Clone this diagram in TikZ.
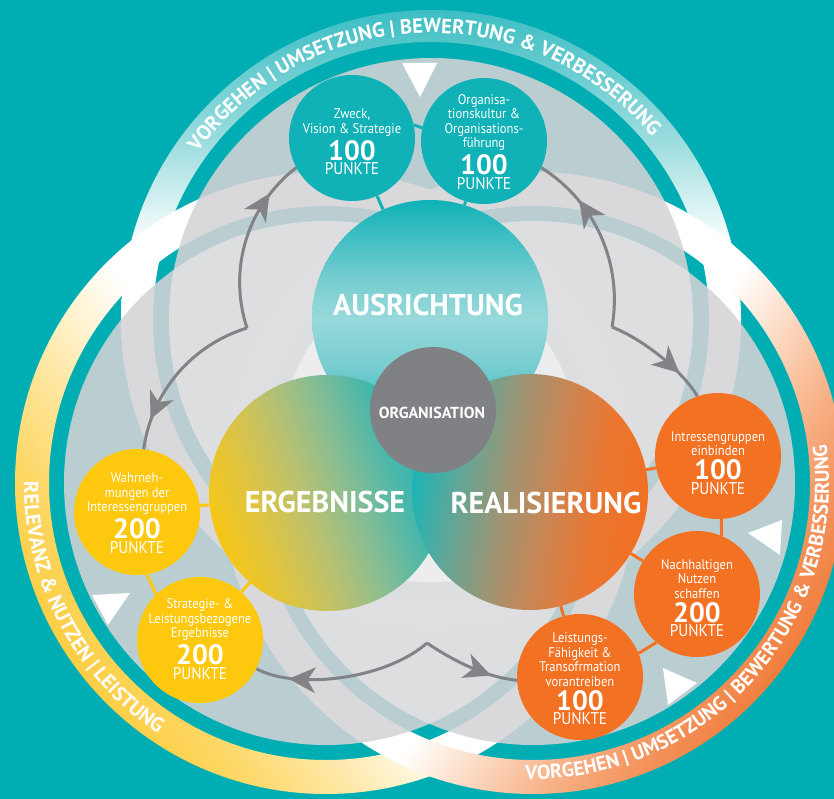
\documentclass[tikz,border=0pt]{standalone}
\usepackage{fontspec}
\setmainfont{PT Sans}
\newfontfamily\condf[FakeStretch=0.9]{PT Sans}
\usetikzlibrary{decorations.text,decorations.markings,arrows.meta}

\definecolor{bgteal}{RGB}{0,173,178}
\definecolor{ringTealA}{RGB}{60,190,195}
\definecolor{ringTealB}{RGB}{160,222,224}
\definecolor{yelA}{RGB}{252,206,68}
\definecolor{yelB}{RGB}{253,214,96}
\definecolor{yelC}{RGB}{254,227,148}
\definecolor{yelD}{RGB}{255,242,206}
\definecolor{orA}{RGB}{240,126,60}
\definecolor{orB}{RGB}{244,148,94}
\definecolor{orC}{RGB}{248,181,140}
\definecolor{orD}{RGB}{252,220,198}
\definecolor{diskgrey}{RGB}{212,211,214}
\definecolor{smteal}{RGB}{16,178,183}
\definecolor{smorange}{RGB}{242,113,34}
\definecolor{smyellow}{RGB}{254,200,14}
\definecolor{arrowgrey}{RGB}{130,131,135}
\definecolor{orggrey}{RGB}{128,129,133}
\definecolor{ausA}{RGB}{15,178,183}
\definecolor{ausB}{RGB}{120,205,208}
\definecolor{ausC}{RGB}{152,217,219}
\definecolor{ausD}{RGB}{30,182,186}
\definecolor{ergA}{RGB}{246,198,22}
\definecolor{ergB}{RGB}{222,196,66}
\definecolor{ergC}{RGB}{186,193,112}
\definecolor{ergD}{RGB}{134,189,148}
\definecolor{ergE}{RGB}{74,183,170}
\definecolor{ergF}{RGB}{28,180,182}
\definecolor{reaA}{RGB}{28,180,182}
\definecolor{reaB}{RGB}{100,166,150}
\definecolor{reaC}{RGB}{160,148,115}
\definecolor{reaD}{RGB}{205,133,82}
\definecolor{reaE}{RGB}{235,118,48}
\definecolor{reaF}{RGB}{242,112,34}

\pgfdeclareverticalshading{topring}{100bp}{color(0bp)=(white); color(56bp)=(white); color(64bp)=(ringTealB); color(75bp)=(ringTealA); color(100bp)=(ringTealA)}
\pgfdeclarehorizontalshading{yelring}{100bp}{color(0bp)=(yelA); color(25bp)=(yelA); color(30bp)=(yelB); color(35.5bp)=(yelC); color(41bp)=(yelD); color(46bp)=(white); color(100bp)=(white)}
\pgfdeclarehorizontalshading{orring}{100bp}{color(0bp)=(orA); color(25bp)=(orA); color(30bp)=(orB); color(35.5bp)=(orC); color(41bp)=(orD); color(46bp)=(white); color(100bp)=(white)}
\pgfdeclarehorizontalshading{ergshade}{100bp}{color(0bp)=(ergA); color(25bp)=(ergA); color(35bp)=(ergB); color(45bp)=(ergC); color(55bp)=(ergD); color(65bp)=(ergE); color(75bp)=(ergF); color(100bp)=(ergF)}
\pgfdeclarehorizontalshading{realshade}{100bp}{color(0bp)=(reaA); color(25bp)=(reaA); color(35bp)=(reaB); color(45bp)=(reaC); color(55bp)=(reaD); color(65bp)=(reaE); color(75bp)=(reaF); color(100bp)=(reaF)}
\pgfdeclareverticalshading{ausshade}{100bp}{color(0bp)=(ausD); color(25bp)=(ausD); color(40bp)=(ausB); color(50bp)=(ausC); color(58bp)=(ausB); color(75bp)=(ausA); color(100bp)=(ausA)}

\pgfdeclarelayer{back}
\pgfdeclarelayer{conn}
\pgfsetlayers{back,conn,main}

\newcommand\ringtext{\bfseries\fontsize{20.5}{20.5}\selectfont\color{white}}
\newcommand\ringtextb{\bfseries\fontsize{20}{20}\selectfont\color{white}}
\newcommand\punkte[1]{\\[3pt]{\normalfont\bfseries\fontsize{28}{28}\selectfont #1}\\{\condf\fontsize{17}{17}\selectfont PUNKTE}}

\begin{document}
\begin{tikzpicture}[x=1pt,y=-1pt,
  smc/.style={circle, minimum size=126pt, inner sep=0pt, draw=none},
  bigc/.style={circle, minimum size=236pt, inner sep=0pt, draw=none},
  smalltxt/.style={font=\condf\fontsize{14}{14.5}\selectfont, text=white, align=center, inner sep=0pt},
  bigtxt/.style={font=\bfseries\fontsize{30}{30}\selectfont, text=white, inner sep=0pt},
  orgtxt/.style={font=\bfseries\fontsize{16}{16}\selectfont, text=white, inner sep=0pt},
  tconn/.style={draw=smteal, line width=3pt},
  oconn/.style={draw=smorange, line width=3pt},
  yconn/.style={draw=smyellow, line width=3pt},
  flowarrow/.style={draw=arrowgrey, line width=3pt, postaction={decorate},
    decoration={markings, mark=at position #1 with {\fill[arrowgrey] (13pt,0pt) -- (-14pt,13pt) -- (-6pt,0pt) -- (-14pt,-13pt) -- cycle;}}},
  ringpath/.style={decorate, decoration={text along path, text align=center, text={#1}}}
]
\useasboundingbox (0,0) rectangle (834,799);
\coordinate (ct) at (431,320);
\coordinate (cl) at (326,483);
\coordinate (cr) at (533,483);

\begin{pgfonlayer}{back}
\fill[bgteal] (0,0) rectangle (834,799);
% ring bands
\shade[shading=topring, even odd rule] (ct) circle[radius=310] (ct) circle[radius=278];
\shade[shading=yelring, shading angle=35, even odd rule] (cl) circle[radius=311] (cl) circle[radius=277];
\shade[shading=orring, shading angle=145, even odd rule] (cr) circle[radius=311] (cr) circle[radius=277];
% grey disks
\fill[diskgrey, opacity=0.88] (ct) circle[radius=262];
\fill[diskgrey, opacity=0.88] (cl) circle[radius=262];
\fill[diskgrey, opacity=0.88] (cr) circle[radius=262];
% lighter overlaps
\begin{scope}
\clip (ct) circle[radius=262];
\fill[white, opacity=0.28] (cl) circle[radius=262];
\fill[white, opacity=0.28] (cr) circle[radius=262];
\end{scope}
\begin{scope}
\clip (cl) circle[radius=262];
\fill[white, opacity=0.28] (cr) circle[radius=262];
\end{scope}
% white triangles
\fill[white] (402,63) -- (437,63) -- (420,97) -- cycle;
\fill[white] (92,595) -- (130,593) -- (108,625) -- cycle;
\fill[white] (748,533) -- (782,520) -- (780,555) -- cycle;
\fill[white] (663,668) -- (697,683) -- (668,705) -- cycle;
\end{pgfonlayer}

% ring texts
\path[ringpath={|\ringtext|VORGEHEN {\textbar} UMSETZUNG {\textbar} BEWERTUNG {\&} VERBESSERUNG}]
  (ct) ++(203:287) arc[start angle=203, end angle=333, radius=287];
\path[ringpath={|\ringtext|RELEVANZ {\&} NUTZEN {\textbar} LEISTUNG}]
  (cl) ++(212:302) arc[start angle=212, end angle=92, radius=302];
\path[ringpath={|\ringtextb|VORGEHEN {\textbar} UMSETZUNG {\textbar} BEWERTUNG {\&} VERBESSERUNG}]
  (cr) ++(107:296) arc[start angle=107, end angle=-23, radius=296];

% small circles
\node[smc, fill=smteal] (zweck) at (352,138) {};
\node[smc, fill=smteal] (org) at (484,141) {};
\node[smc, fill=smorange] (intr) at (718,456) {};
\node[smc, fill=smorange] (nachh) at (697,594) {};
\node[smc, fill=smorange] (leist) at (580,677) {};
\node[smc, fill=smyellow] (wahr) at (137,512) {};
\node[smc, fill=smyellow] (strat) at (200,640) {};

% big circles
\node[bigc, shade, shading=ausshade] (ausr) at (430,318) {};
\node[bigc, shade, shading=ergshade, shading angle=20] (erg) at (327,493) {};
\node[bigc, shade, shading=realshade, shading angle=-10] (real) at (530,492) {};
\node[circle, fill=orggrey, minimum size=126pt, inner sep=0pt] (orga) at (433,410) {};

% connectors
\begin{pgfonlayer}{conn}
\draw[tconn] (zweck.12) -- (org.168);
\draw[tconn] (zweck) -- (ausr);
\draw[tconn] (org) -- (ausr);
\draw[oconn] (intr) -- (real);
\draw[oconn] (intr.-87) -- (nachh.67);
\draw[oconn] (nachh) -- (real);
\draw[oconn] (nachh.230) -- (leist.22);
\draw[oconn] (leist) -- (real);
\draw[yconn] (wahr) -- (erg);
\draw[yconn] (wahr.-81) -- (strat.134);
\draw[yconn] (strat) -- (erg);
\end{pgfonlayer}

% texts
\node[bigtxt] (ausrT) at (428,305) {AUSRICHTUNG};
\node[bigtxt] (ergT) at (325,502) {ERGEBNISSE};
\node[bigtxt] (realT) at (546,503) {REALISIERUNG};
\node[orgtxt] (orgaT) at (432,413) {ORGANISATION};

\node[smalltxt] (zweckT) at (352,142) {Zweck,\\Vision \& Strategie\punkte{100}};
\node[smalltxt] (orgT) at (484,142) {Organisa-\\tionskultur \&\\Organisations-\\führung\punkte{100}};
\node[smalltxt] (intrT) at (718,463) {Intressengruppen\\einbinden\punkte{100}};
\node[smalltxt] (nachhT) at (697,598) {Nachhaltigen\\Nutzen\\schaffen\punkte{200}};
\node[smalltxt] (leistT) at (580,679) {Leistungs-\\Fähigkeit \&\\Transofrmation\\vorantreiben\punkte{100}};
\node[smalltxt] (wahrT) at (137,513) {Wahrneh-\\mungen der\\Interessengruppen\punkte{200}};
\node[smalltxt] (stratT) at (200,639) {Strategie- \&\\Leistungsbezogene\\Ergebnisse\punkte{200}};

% kinked arrows
\coordinate (kA) at (247,328);
\coordinate (kB) at (612,327);
\coordinate (kC) at (427,643);
\draw[flowarrow=0.72] (kA) .. controls (227.6,269) and (247.4,205.4) .. (zweck.208.6);
\draw[flowarrow=0.74] (kA) .. controls (192.5,344.8) and (152.1,390.7) .. (wahr.84.7);
\draw[flowarrow=0.66] (kB) .. controls (623,264.6) and (595.6,201.8) .. (org.-25);
\draw[flowarrow=0.62] (kB) .. controls (644.6,340) and (682.8,371.4) .. (intr.109);
\draw[flowarrow=0.74] (kC) .. controls (385,680) and (295,690) .. (strat.-27);
\draw[flowarrow=0.6] (kC) .. controls (456,662.6) and (487.3,677.3) .. (leist.183);
\end{tikzpicture}
\end{document}
